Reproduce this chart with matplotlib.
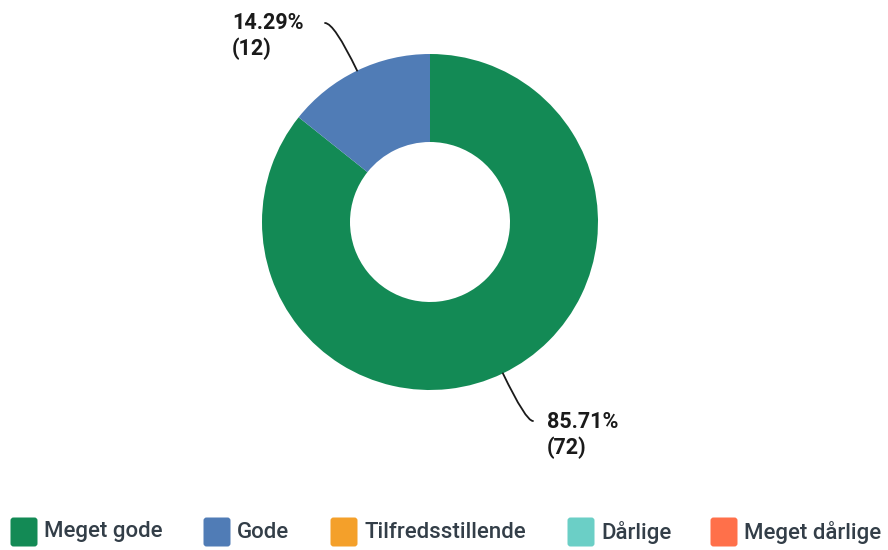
import numpy as np
import matplotlib.pyplot as plt
from matplotlib.patches import FancyBboxPatch

labels = ['Meget gode', 'Gode', 'Tilfredsstillende', 'Dårlige', 'Meget dårlige']
counts = [72, 12, 0, 0, 0]
percents = [85.71, 14.29, 0.0, 0.0, 0.0]
colors = ['#138a55', '#507cb6', '#f4a02a', '#6bcfc6', '#ff704a']

plt.rcParams['font.family'] = ['Roboto', 'DejaVu Sans']

W, H = 888, 550
fig = plt.figure(figsize=(W / 100, H / 100), dpi=100)
ax = fig.add_axes([0, 0, 1, 1])

cx, cy, r = 430, H - 222, 168
nz = [i for i, c in enumerate(counts) if c > 0]
wedges, _ = ax.pie([counts[i] for i in nz], colors=[colors[i] for i in nz],
                   startangle=90, counterclock=False, center=(cx, cy),
                   radius=r, wedgeprops=dict(width=88, linewidth=0),
                   frame=True)
ax.set_xlim(0, W)
ax.set_ylim(0, H)
ax.set_aspect('equal')
ax.axis('off')

# leader lines + labels
label_pos = {0: (533, H - 421, 547, H - 435), 1: (325, H - 23, 232, H - 36)}
for w, i in zip(wedges, nz):
    ang = (w.theta1 + w.theta2) / 2
    ex = cx + r * np.cos(np.radians(ang))
    ey = cy + r * np.sin(np.radians(ang))
    hx, hy, tx, ty = label_pos[i]
    ax.annotate('', xy=(ex, ey), xytext=(hx, hy),
                arrowprops=dict(arrowstyle='-', color='#1a1a1a', lw=1.3,
                                shrinkA=0, shrinkB=0,
                                connectionstyle=f'angle3,angleA=0,angleB={ang}'))
    ax.text(tx, ty, f'{percents[i]:.2f}%\n({counts[i]})', ha='left', va='center',
            fontsize=15.5, fontweight='bold', color='#1a1a1a', linespacing=1.25)

# legend
leg_x = [10, 203, 330, 567, 710]
for x, lab, col in zip(leg_x, labels, colors):
    ax.add_patch(FancyBboxPatch((x + 2, H - 545), 24, 26,
                                boxstyle='round,pad=1.5,rounding_size=3',
                                fc=col, ec='none'))
    ax.text(x + 34, H - 532, lab, ha='left', va='center', fontsize=16,
            fontweight='medium', color='#333e48')

fig.savefig('out.png', dpi=100)
